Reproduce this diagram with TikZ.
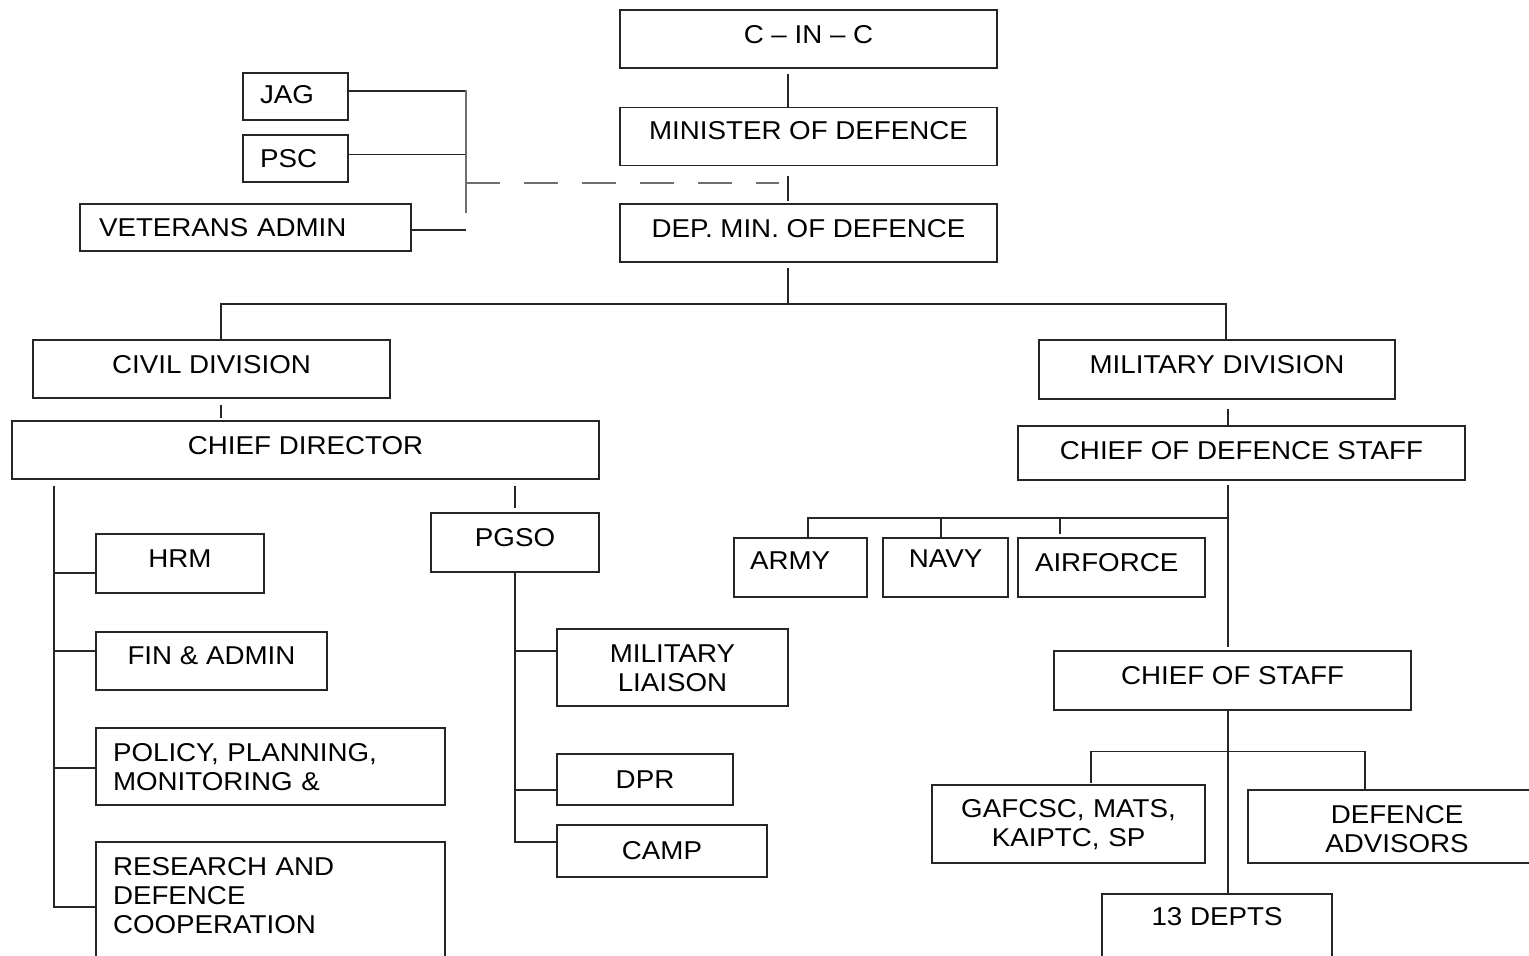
\documentclass[tikz,border=0pt]{standalone}
\usepackage{fontspec}
\setmainfont{Liberation Sans}[FakeStretch=1.075]
\newcommand\chfont{\fontsize{12.9pt}{14.5pt}\selectfont}
\definecolor{linec}{HTML}{262626}
\definecolor{graylc}{HTML}{6E6E6E}
\tikzset{
  box/.style={draw=linec, line width=0.75pt, inner sep=0pt, outer sep=0pt,
    font=\chfont, text=black, text height=9.2pt, align=center},
  wh/.style 2 args={minimum width=#1*0.5pt, minimum height=#2*0.5pt},
  conn/.style={draw=linec, line width=0.75pt},
  grayconn/.style={draw=graylc, line width=0.75pt},
}
\begin{document}
\begin{tikzpicture}[x=0.5pt, y=-0.5pt]
\useasboundingbox (0,0) rectangle (1529,956);
\fill[white] (0,0) rectangle (1529,956);
\clip (0,0) rectangle (1529,956);

% top chain
\node[box, wh={377}{58}, text depth=5pt] (cinc) at (808.5,39) {C – IN – C};
\node[box, wh={377}{58}, text depth=6pt] (min) at (808.5,136.5) {MINISTER OF DEFENCE};
\node[box, wh={377}{58}, text depth=5pt] (dep) at (808.5,233) {DEP. MIN. OF DEFENCE};

% left advisory boxes
\node[box, wh={105}{47}, text width=35.5pt, align=left, inner xsep=8.5pt, text depth=2.5pt] (jag) at (295.5,96.5) {JAG};
\node[box, wh={105}{47}, text width=35.5pt, align=left, inner xsep=8.5pt, text depth=0pt] (psc) at (295.5,158.5) {PSC};
\node[box, wh={331}{47}, text width=146.5pt, align=left, inner xsep=9.5pt, text depth=0pt] (vet) at (245.5,227.5) {VETERANS ADMIN};

% divisions
\node[box, wh={357}{58}, text depth=4.5pt] (civil) at (211.5,369) {CIVIL DIVISION};
\node[box, wh={356}{59}, text depth=5pt] (mildiv) at (1217,369.5) {MILITARY DIVISION};

% civil side
\node[box, wh={587}{58}, text depth=4.5pt] (chiefdir) at (305.5,450) {CHIEF DIRECTOR};
\node[box, wh={168}{59}, text depth=5.5pt] (hrm) at (180,563.5) {HRM};
\node[box, wh={231}{58}, text depth=5.5pt] (fin) at (211.5,661) {FIN \& ADMIN};
\node[box, wh={349}{77}, text width=157.5pt, align=left, inner xsep=8.5pt, text depth=14.5pt] (policy) at (270.5,766.5) {POLICY, PLANNING,\\MONITORING \&};
\node[box, minimum width=174.5pt, text width=157.5pt, align=left, inner xsep=8.5pt, inner ysep=7.5pt, text depth=70pt, anchor=north] (research) at (270.5,842) {RESEARCH AND\\DEFENCE\\COOPERATION};
\node[box, wh={168}{59}, text depth=5pt] (pgso) at (515,542.5) {PGSO};
\node[box, wh={231}{77}, text width=100pt, text depth=14.5pt] (milliaison) at (672.5,667.5) {MILITARY\\LIAISON};
\node[box, wh={176}{51}, text depth=0.5pt] (dpr) at (645,779.5) {DPR};
\node[box, wh={210}{52}, text depth=1pt] (camp) at (662,851) {CAMP};

% military side
\node[box, wh={447}{54}, text depth=3pt] (cds) at (1241.5,453) {CHIEF OF DEFENCE STAFF};
\node[box, wh={133}{59}, text width=50.5pt, align=left, inner xsep=8pt, text depth=7pt] (army) at (800.5,567.5) {ARMY};
\node[box, wh={125}{59}, text depth=9.5pt] (navy) at (945.5,567.5) {NAVY};
\node[box, wh={187}{59}, text width=76.5pt, align=left, inner xsep=8.5pt, text depth=5pt] (airforce) at (1111.5,567.5) {AIRFORCE};
\node[box, wh={357}{59}, text depth=5pt] (cos) at (1232.5,680.5) {CHIEF OF STAFF};
\node[box, wh={273}{78}, text width=120pt, text depth=15.5pt] (gafcsc) at (1068.5,824) {GAFCSC, MATS,\\KAIPTC, SP};
\node[box, wh={298}{73}, text width=120pt, text depth=12.5pt] (defadv) at (1397,826.5) {DEFENCE\\ADVISORS};
\node[box, minimum width=115pt, inner ysep=6.65pt, text depth=60pt, anchor=north] (depts) at (1217,894) {13 DEPTS};

% ---- connectors ----
\coordinate (spine) at (788,304);
\draw[conn, shorten <=3pt] (spine |- cinc.south) -- (spine |- min.north);
\draw[conn, shorten <=5.5pt, shorten >=1.5pt] (spine |- min.south) -- (spine |- dep.north);

% advisory bracket
\coordinate (brtop) at (466,90.5);
\coordinate (brbot) at (466,213);
\coordinate (dashs) at (466,183);
\coordinate (dashe) at (779,183);
\coordinate (jagp) at ([yshift=2.75pt]jag.east);
\coordinate (pscp) at ([yshift=2pt]psc.east);
\coordinate (vetp) at ([yshift=-1.25pt]vet.east);
\draw[conn] (jagp) -- (jagp -| brtop);
\draw[conn] (pscp) -- (pscp -| brtop);
\draw[conn] (vetp) -- (vetp -| brtop);
\draw[grayconn] (brtop) -- (brbot);
\draw[grayconn, dash pattern=on 17pt off 12pt] (dashs) -- (dashe);

% split to divisions
\coordinate (cvx) at (221,304);
\coordinate (mdx) at (1226,304);
\draw[conn, shorten <=3pt] (spine |- dep.south) -- (spine);
\draw[conn] (cvx |- civil.north) -- (cvx) -- (mdx) -- (mdx |- mildiv.north);

% civil side
\draw[conn, shorten <=3.5pt, shorten >=1.5pt] (cvx |- civil.south) -- (cvx |- chiefdir.north);
\coordinate (lx) at (54,907);
\coordinate (bh) at (54,573);
\coordinate (bf) at (54,651);
\coordinate (bp) at (54,768);
\draw[conn, shorten <=3.25pt] (lx |- chiefdir.south) -- (lx) -- (lx -| research.west);
\draw[conn] (bh) -- (bh -| hrm.west);
\draw[conn] (bf) -- (bf -| fin.west);
\draw[conn] (bp) -- (bp -| policy.west);
\draw[conn, shorten <=3.25pt, shorten >=2.5pt] (pgso.north |- chiefdir.south) -- (pgso.north);
\coordinate (pml) at (515,651);
\coordinate (pdpr) at (515,790);
\coordinate (pcamp) at (515,842);
\draw[conn] (pgso.south) -- (pcamp) -- (pcamp -| camp.west);
\draw[conn] (pml) -- (pml -| milliaison.west);
\draw[conn] (pdpr) -- (pdpr -| dpr.west);

% military side
\coordinate (mx) at (1228,518);
\draw[conn, shorten <=5pt] (mx |- mildiv.south) -- (mx |- cds.north);
\draw[conn, shorten <=2.5pt, shorten >=2pt] (mx |- cds.south) -- (mx |- cos.north);
\coordinate (ax) at (808,518);
\coordinate (nx) at (941,518);
\coordinate (afx) at (1060,518);
\draw[conn] (mx) -- (ax) -- (ax |- army.north);
\draw[conn] (nx) -- (nx |- navy.north);
\draw[conn, shorten >=2.25pt] (afx) -- (afx |- airforce.north);
\coordinate (gx) at (1091,751.7);
\coordinate (dx) at (1365,751.7);
\draw[conn] (mx |- cos.south) -- (mx |- depts.north);
\draw[conn, shorten <=1pt] (gx |- gafcsc.north) -- (gx) -- (dx) -- (dx |- defadv.north);
\end{tikzpicture}
\end{document}
